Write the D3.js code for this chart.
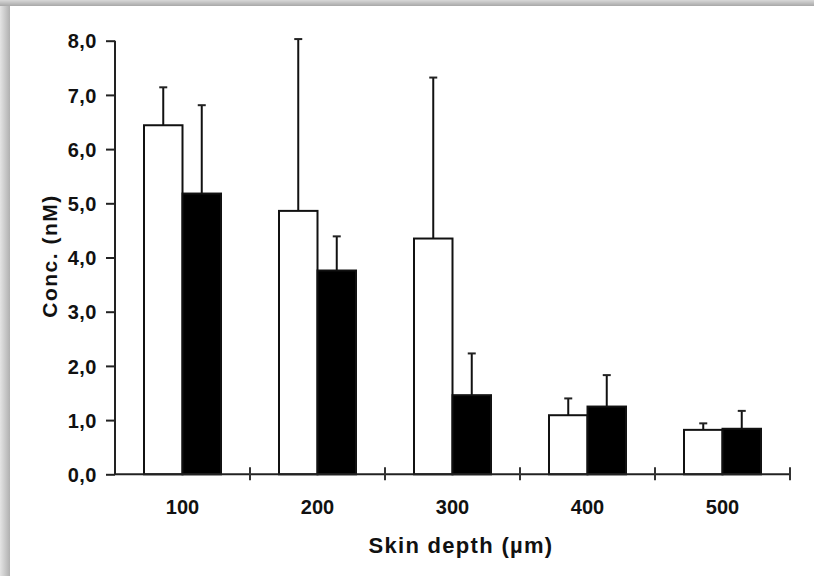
<!DOCTYPE html>
<html><head><meta charset="utf-8">
<script src="https://cdn.jsdelivr.net/npm/d3@7"></script>
<style>html,body{margin:0;padding:0;background:#fff;}svg{display:block;}</style>
</head><body>
<svg id="chart" width="814" height="576"></svg>
<script>
const categories = ["100","200","300","400","500"];
const seriesNames = ["open","filled"];
const openValues   = [6.44, 4.86, 4.35, 1.09, 0.82];
const openErrors   = [0.70, 3.17, 2.97, 0.31, 0.12];
const filledValues = [5.18, 3.76, 1.46, 1.25, 0.84];
const filledErrors = [1.63, 0.63, 0.77, 0.58, 0.33];
const yTicks = [0,1,2,3,4,5,6,7,8];
const yLabel = "Conc. (nM)";
const xLabel = "Skin depth (µm)";

const svg = d3.select("#chart");
const W = 814, H = 576;
const defs = svg.append("defs");
const gTop = defs.append("linearGradient").attr("id","gTop").attr("x1",0).attr("y1",0).attr("x2",0).attr("y2",1);
gTop.append("stop").attr("offset","0%").attr("stop-color","#d8d8d8");
gTop.append("stop").attr("offset","100%").attr("stop-color","#a8a8a8");
const gLeft = defs.append("linearGradient").attr("id","gLeft").attr("x1",0).attr("y1",0).attr("x2",1).attr("y2",0);
gLeft.append("stop").attr("offset","0%").attr("stop-color","#e4e4e4");
gLeft.append("stop").attr("offset","100%").attr("stop-color","#b0b0b0");

svg.append("rect").attr("width",W).attr("height",H).attr("fill","#fff");
svg.append("rect").attr("x",0).attr("y",0).attr("width",10).attr("height",H).attr("fill","url(#gLeft)");
svg.append("rect").attr("x",0).attr("y",0).attr("width",W).attr("height",6).attr("fill","url(#gTop)");

const x0 = d3.scaleBand().domain(categories).range([115,790]).padding(0);
const x1 = d3.scaleBand().domain(seriesNames).range([29, 106]).padding(0);
const y = d3.scaleLinear().domain([0,8]).range([474.3, 40.7]);

const data = categories.map((c,i)=>({cat:c, vals:[
  {s:"open", v:openValues[i], e:openErrors[i]},
  {s:"filled", v:filledValues[i], e:filledErrors[i]}]}));

const font = "'Liberation Sans', Arial, sans-serif";

const groups = svg.append("g").selectAll("g").data(data).join("g")
  .attr("transform", d=>`translate(${x0(d.cat)},0)`);
groups.selectAll("g.err").data(d=>d.vals).join("g").attr("class","err").each(function(d){
  const g = d3.select(this);
  const cx = x1(d.s) + x1.bandwidth()/2;
  g.append("line").attr("x1",cx).attr("x2",cx).attr("y1",y(d.v)).attr("y2",y(d.v+d.e))
    .attr("stroke","#111").attr("stroke-width",2);
  g.append("line").attr("x1",cx-4).attr("x2",cx+4).attr("y1",y(d.v+d.e)).attr("y2",y(d.v+d.e))
    .attr("stroke","#222").attr("stroke-width",2);
});
groups.selectAll("rect").data(d=>d.vals).join("rect")
  .attr("x", d=>x1(d.s)).attr("width", x1.bandwidth())
  .attr("y", d=>y(d.v)).attr("height", d=>y(0)-y(d.v))
  .attr("fill", d=>d.s==="open"?"#fff":"#000")
  .attr("stroke","#111").attr("stroke-width",2);

// y axis
const yAxis = d3.axisLeft(y).tickValues(yTicks).tickSize(9).tickPadding(9)
  .tickFormat(d=>d3.format(".1f")(d).replace(".",","));
const ya = svg.append("g").attr("transform","translate(115,0)").call(yAxis);
ya.select(".domain").attr("d", `M0,${y(0)}V${y(8)}`).attr("stroke","#222").attr("stroke-width",2);
ya.selectAll(".tick line").attr("stroke","#222").attr("stroke-width",2);
ya.selectAll(".tick text").attr("font-family",font).attr("font-weight","bold").attr("font-size",20)
  .attr("letter-spacing","0.5px").attr("fill","#111").attr("dy","0.36em");

// x axis
const xa = svg.append("g").attr("transform",`translate(0,${y(0)})`).call(d3.axisBottom(x0).tickSize(0).tickPadding(0).tickFormat(()=>""));
xa.select(".domain").attr("d","M115,0H790").attr("stroke","#222").attr("stroke-width",2);
xa.selectAll(".tick").remove();
const boundaries = categories.map(c=>x0(c)+x0.bandwidth());
xa.selectAll("line.bt").data(boundaries).join("line").attr("class","bt")
  .attr("x1",d=>d).attr("x2",d=>d).attr("y1",-7).attr("y2",6).attr("stroke","#333").attr("stroke-width",2);
svg.append("g").selectAll("text").data(categories).join("text")
  .attr("x", c=>x0(c)+x0.bandwidth()/2).attr("y",514)
  .attr("text-anchor","middle").attr("font-family",font).attr("font-weight","bold").attr("font-size",20).attr("fill","#111")
  .text(c=>c);

svg.append("text").attr("x",461).attr("y",553).attr("text-anchor","middle")
  .attr("font-family",font).attr("font-weight","bold").attr("font-size",22).attr("letter-spacing","1.3px").attr("fill","#111").text(xLabel);
svg.append("text").attr("transform","translate(57,256) rotate(-90)").attr("text-anchor","middle")
  .attr("font-family",font).attr("font-weight","bold").attr("font-size",21).attr("letter-spacing","1.5px").attr("fill","#111").text(yLabel);
</script>
</body></html>
